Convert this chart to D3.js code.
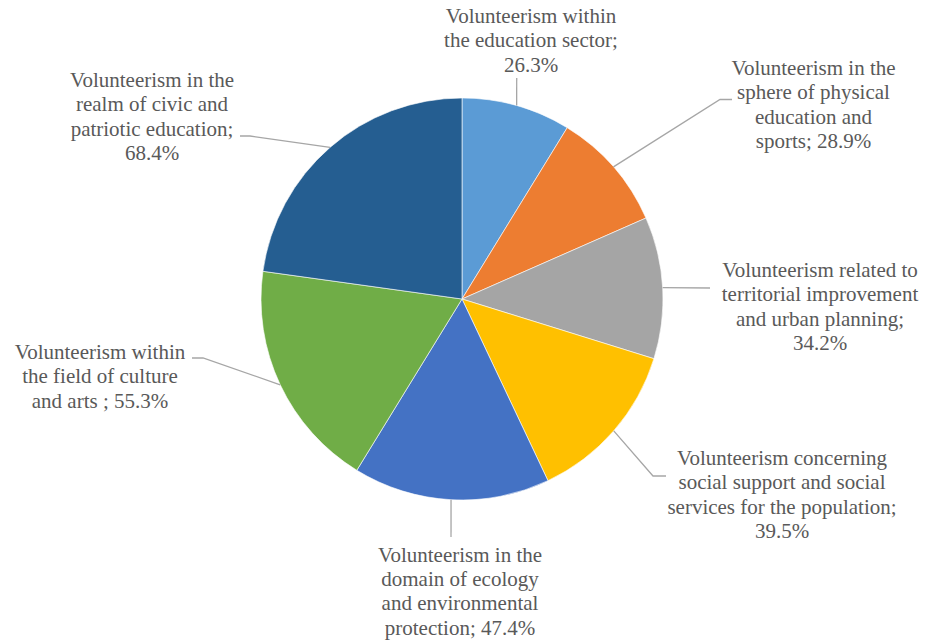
<!DOCTYPE html>
<html>
<head>
<meta charset="utf-8">
<script src="https://cdn.jsdelivr.net/npm/d3@7"></script>
<style>
  html, body { margin: 0; padding: 0; background: #fff; }
  svg { display: block; }
</style>
</head>
<body>
<svg id="chart" width="929" height="643"></svg>
<script>
// ---- data ----
const categories = [
  "Volunteerism within the education sector",
  "Volunteerism in the sphere of physical education and sports",
  "Volunteerism related to territorial improvement and urban planning",
  "Volunteerism concerning social support and social services for the population",
  "Volunteerism in the domain of ecology and environmental protection",
  "Volunteerism within the field of culture and arts ",
  "Volunteerism in the realm of civic and patriotic education"
];
const values = [26.3, 28.9, 34.2, 39.5, 47.4, 55.3, 68.4];
const colors = ["#5B9BD5", "#ED7D31", "#A5A5A5", "#FFC000", "#4472C4", "#70AD47", "#255E91"];

// ---- layout (label placement, words per line, leader elbows) ----
const wordsPerLine = [[2,3,1],[3,3,2,2],[3,2,3,1],[2,4,4,1],[3,3,2,2],[2,4,4],[3,4,2,1]];
const labelX = [531, 813.5, 820, 782, 460, 100, 152];
const labelY = [23, 75, 277, 465, 561.5, 359, 87];
const leaderElbow = [[516.7,78],[720,99.5],[710,288],[653,476],[451,537],[203,358],[250,136]];
const leaderEnd = [null,[732,99.5],null,[666,476],null,[192,358],[240,136]];

const cx = 462, cy = 299, R = 201;
const lineH = 24.4;
const FONT = "'Liberation Serif', serif";

const svg = d3.select("#chart");
const g = svg.append("g").attr("transform", `translate(${cx},${cy})`);

const pie = d3.pie().sort(null).value(d => d.v).startAngle(0).endAngle(2 * Math.PI);
const data = categories.map((c, i) => ({ c, v: values[i], i }));
const arcs = pie(data);
const arc = d3.arc().innerRadius(0).outerRadius(R);
const color = d3.scaleOrdinal().domain(d3.range(categories.length)).range(colors);

g.selectAll("path.slice")
  .data(arcs)
  .enter().append("path")
  .attr("class", "slice")
  .attr("d", arc)
  .attr("fill", d => color(d.data.i))
  .attr("stroke", "#fff")
  .attr("stroke-width", 0.6);

// leader lines
arcs.forEach((d, i) => {
  const a = (d.startAngle + d.endAngle) / 2;
  const sx = cx + R * Math.sin(a), sy = cy - R * Math.cos(a);
  const pts = [[sx, sy], leaderElbow[i]];
  if (leaderEnd[i]) pts.push(leaderEnd[i]);
  svg.append("path")
    .attr("d", d3.line()(pts))
    .attr("fill", "none")
    .attr("stroke", "#A6A6A6")
    .attr("stroke-width", 1.3);
});

// labels
arcs.forEach((d, i) => {
  const full = `${d.data.c}; ${d3.format(".1f")(d.data.v)}%`;
  const words = full.split(/\s+/);
  const lines = [];
  let k = 0;
  wordsPerLine[i].forEach(n => { lines.push(words.slice(k, k + n).join(" ")); k += n; });
  lines.forEach((ln, j) => {
    const t = svg.append("text")
      .attr("x", labelX[i])
      .attr("y", labelY[i] + j * lineH)
      .attr("font-family", FONT)
      .attr("font-size", 21)
      .attr("fill", "#595959")
      .text(ln);
    const w = t.node().getComputedTextLength();
    t.attr("x", labelX[i] - w / 2);
  });
});
</script>
</body>
</html>
